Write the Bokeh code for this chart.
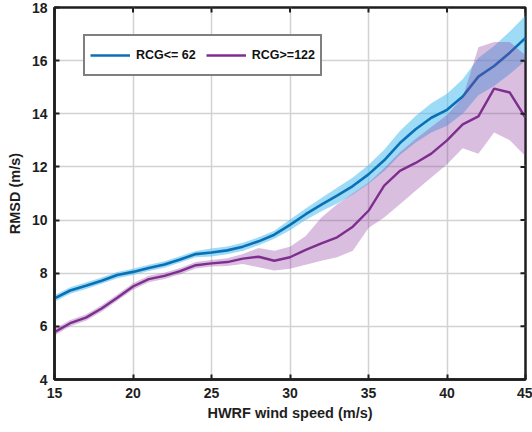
import math
from bokeh.plotting import figure
from bokeh.models import FixedTicker, Legend, LegendItem, ColumnDataSource
from bokeh.embed import file_html
from bokeh.resources import INLINE

# ---- data ----
wind = list(range(15, 46))

rcg_low = [7.05, 7.35, 7.53, 7.72, 7.93, 8.05, 8.2, 8.33, 8.52, 8.72, 8.78, 8.86, 9.0, 9.2, 9.45,
           9.82, 10.22, 10.58, 10.92, 11.28, 11.72, 12.25, 12.9, 13.42, 13.85, 14.15, 14.65, 15.4,
           15.8, 16.3, 16.85]
rcg_low_hi = [7.17, 7.47, 7.65, 7.84, 8.05, 8.17, 8.32, 8.45, 8.64, 8.84, 8.93, 9.01, 9.15, 9.35,
              9.6, 10.02, 10.44, 10.83, 11.22, 11.6, 12.07, 12.65, 13.35, 13.92, 14.4, 14.75, 15.3,
              16.1, 16.55, 17.1, 17.7]
rcg_low_lo = [6.93, 7.23, 7.41, 7.6, 7.81, 7.93, 8.08, 8.21, 8.4, 8.6, 8.63, 8.71, 8.85, 9.05, 9.3,
              9.62, 10.0, 10.33, 10.62, 10.96, 11.37, 11.85, 12.45, 12.92, 13.3, 13.55, 14.0, 14.7,
              15.05, 15.5, 16.0]

rcg_high = [5.78, 6.12, 6.33, 6.67, 7.08, 7.5, 7.78, 7.9, 8.08, 8.3, 8.37, 8.42, 8.55, 8.62, 8.47,
            8.6, 8.88, 9.12, 9.35, 9.75, 10.35, 11.3, 11.85, 12.15, 12.5, 13.0, 13.6, 13.9, 14.95,
            14.8, 13.85]
rcg_high_hi = [5.9, 6.24, 6.45, 6.79, 7.2, 7.62, 7.9, 8.02, 8.2, 8.42, 8.5, 8.56, 8.72, 8.95, 8.85,
               9.0, 9.4, 10.1, 10.6, 11.0, 11.4, 11.95, 12.55, 13.05, 13.5, 13.95, 14.6, 16.5, 16.7,
               16.7, 16.2]
rcg_high_lo = [5.66, 6.0, 6.21, 6.55, 6.96, 7.38, 7.66, 7.78, 7.96, 8.18, 8.25, 8.27, 8.35, 8.22,
               8.1, 8.17, 8.32, 8.47, 8.6, 8.85, 9.7, 10.1, 10.6, 11.1, 11.6, 12.1, 12.7, 12.5, 13.3,
               13.0, 12.4]

x_ticks = [15, 20, 25, 30, 35, 40, 45]
y_ticks = [4, 6, 8, 10, 12, 14, 16, 18]
labels = ["RCG<= 62", "RCG>=122"]

src = ColumnDataSource(dict(x=wind, b=rcg_low, bh=rcg_low_hi, bl=rcg_low_lo,
                            p=rcg_high, ph=rcg_high_hi, pl=rcg_high_lo))

FONT = "Liberation Sans"
AX = "#1e1e1e"

p = figure(width=532, height=432, x_range=(15, 45), y_range=(4, 18),
           output_backend="svg", toolbar_location=None,
           min_border_left=54, min_border_right=7, min_border_top=7, min_border_bottom=53)
p.background_fill_color = "white"
p.border_fill_color = "white"
p.outline_line_color = AX
p.outline_line_width = 2.5

p.xgrid.ticker = FixedTicker(ticks=x_ticks)
p.ygrid.ticker = FixedTicker(ticks=y_ticks)
p.grid.grid_line_color = "#d2d2d2"
p.grid.grid_line_width = 1.5

# bands and lines
p.varea(x="x", y1="bl", y2="bh", source=src, fill_color="#4DBEEE", fill_alpha=0.55)
l1 = p.line(x="x", y="b", source=src, line_color="#0a6fb5", line_width=2.6)
p.varea(x="x", y1="pl", y2="ph", source=src, fill_color="#8e3a9e", fill_alpha=0.33)
l2 = p.line(x="x", y="p", source=src, line_color="#7E2F8E", line_width=2.4)

# inward ticks on the top and right edges (outer half is clipped by the frame)
p.scatter(x=x_ticks, y=[y_ticks[-1]] * len(x_ticks), marker="dash", angle=math.pi / 2,
          size=10, line_color=AX, line_width=2)
p.scatter(x=[x_ticks[-1]] * len(y_ticks), y=y_ticks, marker="dash",
          size=10, line_color=AX, line_width=2)

# axes
for ax in (p.xaxis[0], p.yaxis[0]):
    ax.axis_line_width = 2.5
    ax.axis_line_color = AX
    ax.major_tick_in = 5
    ax.major_tick_out = 0
    ax.minor_tick_in = 0
    ax.minor_tick_out = 0
    ax.major_tick_line_width = 2
    ax.major_tick_line_color = AX
    ax.major_label_text_font = FONT
    ax.major_label_text_font_style = "bold"
    ax.major_label_text_font_size = "14px"
    ax.major_label_text_color = AX
    ax.axis_label_text_font = FONT
    ax.axis_label_text_font_style = "bold"
    ax.axis_label_text_font_size = "14.5px"
    ax.axis_label_text_color = AX

p.xaxis[0].major_label_standoff = 8
p.xaxis[0].axis_label_standoff = 4
p.yaxis[0].major_label_standoff = 7
p.yaxis[0].axis_label_standoff = 6

p.xaxis[0].ticker = FixedTicker(ticks=x_ticks)
p.yaxis[0].ticker = FixedTicker(ticks=y_ticks)
p.xaxis[0].axis_label = "HWRF wind speed (m/s)"
p.yaxis[0].axis_label = "RMSD (m/s)"

legend = Legend(items=[LegendItem(label=labels[0], renderers=[l1]),
                       LegendItem(label=labels[1], renderers=[l2])],
                orientation="horizontal", location=(29, 303),
                border_line_color="black", border_line_width=2.5,
                padding=5, spacing=10, margin=0,
                glyph_width=40, glyph_height=28, label_height=28, label_standoff=6,
                label_text_font=FONT, label_text_font_style="bold",
                label_text_font_size="12.5px", label_text_color="#111111",
                background_fill_color="white", background_fill_alpha=1)
p.add_layout(legend)

open("out.html", "w").write(file_html(p, INLINE))
